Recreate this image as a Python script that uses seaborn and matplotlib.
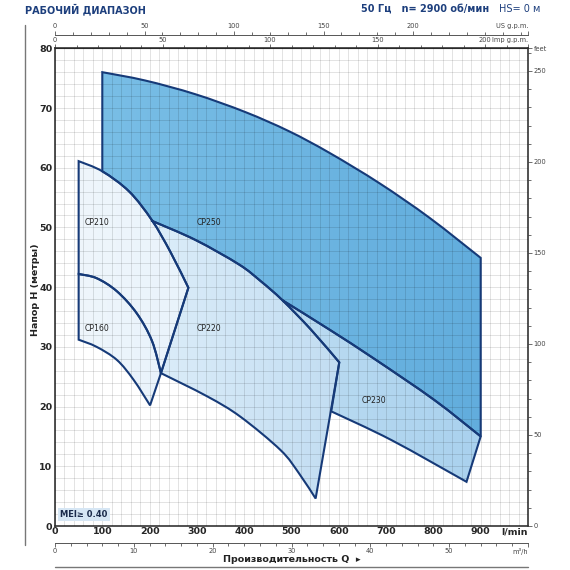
import numpy as np
import pandas as pd
import matplotlib
matplotlib.use("Agg")
import matplotlib.pyplot as plt
from matplotlib.lines import Line2D
from matplotlib.path import Path
from matplotlib.patches import PathPatch
from matplotlib.colors import LinearSegmentedColormap
from matplotlib.ticker import FixedLocator, MultipleLocator
import seaborn as sns

# ---------------- data (Q in l/min, H in m) ----------------
cp250_top_q = [100, 191, 297, 403, 495, 580, 686, 792, 900]
cp250_top_h = [76.0, 74.6, 72.3, 69.3, 66.1, 62.5, 57.4, 51.6, 44.9]

cp230_top_q = [481, 580, 675, 802, 900]
cp230_top_h = [37.8, 32.9, 28.0, 21.1, 15.0]
cp230_bot_q = [584, 711, 870]
cp230_bot_h = [19.2, 14.4, 7.4]

cp220_top_q = [205, 297, 389, 435, 481, 541, 601]
cp220_top_h = [51.1, 47.9, 43.8, 41.0, 37.8, 32.9, 27.4]
cp220_bot_q = [224, 322, 392, 477, 516, 551]
cp220_bot_h = [25.6, 21.7, 18.3, 12.7, 8.8, 4.6]

cp210_top_q = [50, 100, 157, 205, 244, 282]
cp210_top_h = [61.1, 59.4, 56.0, 51.2, 45.9, 39.9]

cp160_top_q = [50, 88, 131, 173, 205, 224]
cp160_top_h = [42.2, 41.5, 39.3, 35.6, 31.0, 25.6]
cp160_bot_q = [50, 88, 131, 166, 201]
cp160_bot_h = [31.2, 30.0, 27.8, 24.5, 20.2]

model_names = ["CP250", "CP230", "CP220", "CP210", "CP160"]
model_label_q = [325, 674, 325, 89, 89]
model_label_h = [50.9, 21.0, 33.1, 50.9, 33.1]

x_ticks = [0, 100, 200, 300, 400, 500, 600, 700, 800, 900]
y_ticks = [0, 10, 20, 30, 40, 50, 60, 70, 80]

curves = {
    "cp250_top": (cp250_top_q, cp250_top_h),
    "cp230_top": (cp230_top_q, cp230_top_h),
    "cp230_bot": (cp230_bot_q, cp230_bot_h),
    "cp220_top": (cp220_top_q, cp220_top_h),
    "cp220_bot": (cp220_bot_q, cp220_bot_h),
    "cp210_top": (cp210_top_q, cp210_top_h),
    "cp160_top": (cp160_top_q, cp160_top_h),
    "cp160_bot": (cp160_bot_q, cp160_bot_h),
}

# boundaries of each operating field: (curve, from index, to index), joined by straight edges
fields = [
    ("CP250", ["#79bee6", "#62addd"], [("cp250_top", 0, 8), ("cp230_top", 4, 0),
                                       ("cp220_top", 4, 0), ("cp210_top", 3, 1)]),
    ("CP230", ["#bcdcf2", "#a9d1ee"], [("cp230_top", 0, 4), ("cp230_bot", 2, 0),
                                       ("cp220_top", 6, 4)]),
    ("CP220", ["#dcedf9", "#c2ddf2"], [("cp220_top", 0, 6), ("cp220_bot", 5, 0),
                                       ("cp210_top", 5, 3)]),
    ("CP210", ["#eff6fc", "#e9f3fb"], [("cp210_top", 0, 5), ("cp160_top", 5, 0)]),
    ("CP160", ["#eff6fc", "#e9f3fb"], [("cp160_top", 0, 5), ("cp160_bot", 4, 0)]),
]


def smooth_segments(q, h):
    """Cubic Bezier pieces passing through the read points (Catmull-Rom tangents)."""
    p = np.column_stack([q, h]).astype(float)
    n = len(p)
    segs = []
    for i in range(n - 1):
        a = p[max(i - 1, 0)]
        b = p[i]
        c = p[i + 1]
        d = p[min(i + 2, n - 1)]
        segs.append((b, b + (c - a) / 6.0, c - (d - b) / 6.0, c))
    return segs


curve_segs = {k: smooth_segments(*v) for k, v in curves.items()}


def field_path(pieces):
    verts, codes = [], []
    for name, i0, i1 in pieces:
        segs = curve_segs[name]
        if i1 >= i0:
            run = segs[i0:i1]
        else:
            run = [(s[3], s[2], s[1], s[0]) for s in segs[i1:i0][::-1]]
        start = run[0][0]
        verts.append(start)
        codes.append(Path.MOVETO if len(codes) == 0 else Path.LINETO)
        for s in run:
            verts.extend([s[1], s[2], s[3]])
            codes.extend([Path.CURVE4] * 3)
    verts.append(verts[0]); codes.append(Path.CLOSEPOLY)
    return Path(np.array(verts), codes)


# ---------------- style ----------------
sns.set_style("white")
plt.rcParams["font.family"] = ["Liberation Sans Narrow", "DejaVu Sans"]
navy = "#163a78"
hdr = "#1d3f7d"

fig = plt.figure(figsize=(5.7, 5.7), dpi=100)
W = H = 570.0
ax = fig.add_axes([55 / W, 1 - 526 / H, (528 - 55) / W, (526 - 48.3) / H])

grad = np.linspace(0, 1, 256).reshape(1, -1)
for name, cols, pieces in fields:
    path = field_path(pieces)
    clip = PathPatch(path, facecolor="none", edgecolor="none", zorder=1)
    ax.add_patch(clip)
    ext = path.get_extents()
    im = ax.imshow(grad, extent=[ext.x0, ext.x1, ext.y0, ext.y1], origin="lower",
                   cmap=LinearSegmentedColormap.from_list(name, cols), aspect="auto",
                   interpolation="bilinear", zorder=1)
    im.set_clip_path(clip)
    ax.add_patch(PathPatch(path, facecolor="none", edgecolor=navy, lw=1.5,
                           joinstyle="miter", zorder=4))

ax.set_xlim(0, 1000)
ax.set_ylim(0, 80)
ax.set_aspect("auto")

# grid (20 l/min x 2 m)
ax.xaxis.set_minor_locator(MultipleLocator(20))
ax.yaxis.set_minor_locator(MultipleLocator(2))
ax.grid(which="both", color="black", alpha=0.13, lw=0.6)
for ln in ax.get_xgridlines() + ax.get_ygridlines():
    ln.set_zorder(3)
ax.set_axisbelow(False)

ax.set_xticks(x_ticks + [1000])
ax.set_xticklabels([str(v) for v in x_ticks] + ["l/min"])
ax.set_yticks(y_ticks)
ax.set_yticklabels([str(v) for v in y_ticks])
ax.tick_params(axis="both", which="both", length=0, labelsize=6.8, pad=2)
ax.tick_params(axis="x", pad=1)
for lab in ax.get_xticklabels() + ax.get_yticklabels():
    lab.set_fontweight("bold")
ax.get_xticklabels()[-1].set_horizontalalignment("right")
ax.set_xlabel("")
ax.set_ylabel("")
for s in ax.spines.values():
    s.set_color("#333333")
    s.set_linewidth(1.2)
    s.set_visible(True)

# model labels
for name, q, h in zip(model_names, model_label_q, model_label_h):
    ax.text(q, h, name, ha="center", va="center", fontsize=5.6, color="#222222", zorder=6)

# MEI box
ax.text(0.011, 0.014, "MEI\u2265 0.40", transform=ax.transAxes, fontsize=6.0,
        fontweight="bold", color="#1a2a4a", ha="left", va="bottom", zorder=7,
        bbox=dict(boxstyle="square,pad=0.25", fc="#d6e6f4", ec="none"))

sec_kw = dict(labelsize=4.8, labelcolor="#444444", color="#555555")


def style_sec(axis_obj):
    axis_obj.tick_params(which="major", length=3, width=0.6, pad=1, **sec_kw)
    axis_obj.tick_params(which="minor", length=2.5, width=0.6, color="#555555")


# US gpm (top, above frame)
us_end = 1000 / 3.78541
us = ax.secondary_xaxis(1.028, functions=(lambda x: x / 3.78541, lambda x: x * 3.78541))
us.xaxis.set_major_locator(FixedLocator([0, 50, 100, 150, 200, us_end]))
us.set_xticklabels(["0", "50", "100", "150", "200", "US g.p.m."])
us.xaxis.set_minor_locator(FixedLocator(list(range(0, 261, 10))))
style_sec(us)
us.get_xticklabels()[-1].set_horizontalalignment("right")
us.spines["top"].set_visible(True)
us.spines["top"].set_linewidth(0.7)
us.spines["top"].set_color("#555555")

# Imp gpm (on top frame)
imp_end = 1000 / 4.54609
imp = ax.secondary_xaxis("top", functions=(lambda x: x / 4.54609, lambda x: x * 4.54609))
imp.xaxis.set_major_locator(FixedLocator([0, 50, 100, 150, 200, imp_end]))
imp.set_xticklabels(["0", "50", "100", "150", "200", "Imp g.p.m."])
imp.xaxis.set_minor_locator(FixedLocator(list(range(0, 211, 10))))
style_sec(imp)
imp.get_xticklabels()[-1].set_horizontalalignment("right")

# m3/h (below frame)
m3 = ax.secondary_xaxis(-0.035, functions=(lambda x: x * 0.06, lambda x: x / 0.06))
m3.xaxis.set_major_locator(FixedLocator([0, 10, 20, 30, 40, 50, 60]))
m3.set_xticklabels(["0", "10", "20", "30", "40", "50", "m\u00b3/h"])
m3.xaxis.set_minor_locator(FixedLocator(list(range(0, 61, 2))))
style_sec(m3)
m3.get_xticklabels()[-1].set_horizontalalignment("right")
m3.spines["bottom"].set_visible(True)
m3.spines["bottom"].set_linewidth(0.7)
m3.spines["bottom"].set_color("#555555")

# feet (right)
ft = ax.secondary_yaxis("right", functions=(lambda y: y * 3.28084, lambda y: y / 3.28084))
ft.yaxis.set_major_locator(FixedLocator([0, 50, 100, 150, 200, 250, 80 * 3.28084]))
ft.set_yticklabels(["0", "50", "100", "150", "200", "250", "feet"])
ft.yaxis.set_minor_locator(FixedLocator(list(range(0, 261, 10))))
style_sec(ft)
ft.spines["right"].set_visible(False)

# header / axis titles
fig.text(25 / W, 1 - 9 / H, "РАБОЧИЙ ДИАПАЗОН", fontsize=7.0, fontweight="bold",
         color=hdr, ha="left", va="center")
fig.text(489 / W, 1 - 9 / H, "50 Гц   n= 2900 об/мин", fontsize=7.0, fontweight="bold",
         color=hdr, ha="right", va="center")
fig.text(499 / W, 1 - 9 / H, "HS= 0 м", fontsize=7.0, color=hdr, ha="left", va="center")
fig.text(35 / W, 1 - 290 / H, "Напор H (метры)", fontsize=6.8, fontweight="bold",
         color="#222222", ha="center", va="center", rotation=90)
fig.text(292 / W, 1 - 559 / H, "Производительность Q  \u25b8", fontsize=6.8, fontweight="bold",
         color="#222222", ha="center", va="center")

fig.add_artist(Line2D([25 / W, 25 / W], [1 - 25 / H, 1 - 545 / H], transform=fig.transFigure,
                      color="#777777", lw=1.0))
fig.add_artist(Line2D([55 / W, 528 / W], [1 - 567 / H, 1 - 567 / H], transform=fig.transFigure,
                      color="#777777", lw=1.0))

fig.savefig("out.png", dpi=100)
